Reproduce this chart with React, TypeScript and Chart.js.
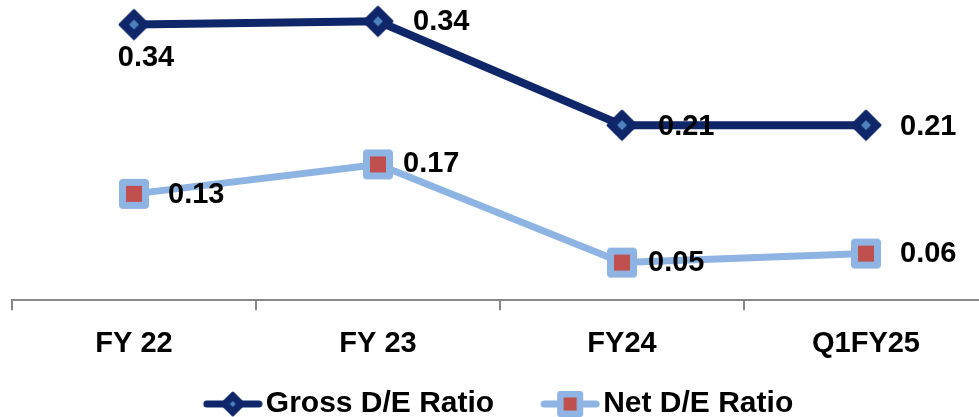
import React, { useEffect, useRef } from 'react';
import { Chart, registerables } from 'chart.js';

Chart.register(...registerables);

// ---- data ----
const categories = ['FY 22', 'FY 23', 'FY24', 'Q1FY25'];
const grossDE = [0.337, 0.341, 0.214, 0.214];
const netDE = [0.13, 0.166, 0.046, 0.057];
const seriesNames = ['Gross D/E Ratio', 'Net D/E Ratio'];
const Y_MIN = 0;
const Y_MAX = 0.367;

// ---- styles ----
const NAVY = '#0f2769';
const NAVY_INNER = '#4f81bd';
const LIGHT = '#8eb4e3';
const RED = '#c0504d';
const FONT = "'Liberation Sans', Arial, sans-serif";

// label placement per series / point (dx, dy in px from the point)
const LABEL_PLACEMENT = [
  [
    { dx: 12, dy: 33.5, align: 'center' },
    { dx: 35, dy: 1, align: 'left' },
    { dx: 36, dy: 2, align: 'left' },
    { dx: 34, dy: 2, align: 'left' },
  ],
  [
    { dx: 34, dy: 1, align: 'left' },
    { dx: 25, dy: 0, align: 'left' },
    { dx: 26, dy: 0, align: 'left' },
    { dx: 34, dy: 0, align: 'left' },
  ],
];

const CANVAS_SHIFT = 26;
const LEGEND_BOX = 82;

function makeCanvas(w: number, h: number) {
  const c = document.createElement('canvas');
  c.width = w;
  c.height = h;
  return c;
}

function diamondPath(ctx: CanvasRenderingContext2D, cx: number, cy: number, r: number) {
  ctx.beginPath();
  ctx.moveTo(cx - r, cy);
  ctx.lineTo(cx, cy - r);
  ctx.lineTo(cx + r, cy);
  ctx.lineTo(cx, cy + r);
  ctx.closePath();
}

function roundRectPath(ctx: CanvasRenderingContext2D, x: number, y: number, w: number, h: number, r: number) {
  ctx.beginPath();
  ctx.moveTo(x + r, y);
  ctx.lineTo(x + w - r, y);
  ctx.quadraticCurveTo(x + w, y, x + w, y + r);
  ctx.lineTo(x + w, y + h - r);
  ctx.quadraticCurveTo(x + w, y + h, x + w - r, y + h);
  ctx.lineTo(x + r, y + h);
  ctx.quadraticCurveTo(x, y + h, x, y + h - r);
  ctx.lineTo(x, y + r);
  ctx.quadraticCurveTo(x, y, x + r, y);
  ctx.closePath();
}

function drawGrossMarker(ctx: CanvasRenderingContext2D, cx: number, cy: number, r: number, inner: number) {
  diamondPath(ctx, cx, cy, r);
  ctx.fillStyle = NAVY;
  ctx.fill();
  ctx.lineJoin = 'round';
  ctx.lineWidth = 3;
  ctx.strokeStyle = NAVY;
  ctx.stroke();
  diamondPath(ctx, cx, cy, inner);
  ctx.fillStyle = NAVY_INNER;
  ctx.fill();
}

function drawNetMarker(ctx: CanvasRenderingContext2D, cx: number, cy: number, side: number, inner: number, rad: number) {
  roundRectPath(ctx, cx - side / 2, cy - side / 2, side, side, rad);
  ctx.fillStyle = LIGHT;
  ctx.fill();
  ctx.fillStyle = RED;
  ctx.fillRect(cx - inner / 2, cy - inner / 2, inner, inner);
}

function grossMarkerImage() {
  const c = makeCanvas(36, 36);
  const ctx = c.getContext('2d')!;
  drawGrossMarker(ctx, 18, 18, 14, 5);
  return c;
}

function netMarkerImage() {
  const c = makeCanvas(36, 36);
  const ctx = c.getContext('2d')!;
  drawNetMarker(ctx, 18, 18, 30, 16, 4);
  return c;
}

// legend symbol: line + marker in the right 60px of the image
function legendImage(kind: 'gross' | 'net') {
  const w = LEGEND_BOX + 24;
  const c = makeCanvas(w, 30);
  const ctx = c.getContext('2d')!;
  const x0 = w - 60;
  ctx.lineCap = 'round';
  ctx.beginPath();
  ctx.moveTo(x0 + 4, 15);
  ctx.lineTo(w - 4, 15);
  if (kind === 'gross') {
    ctx.strokeStyle = NAVY;
    ctx.lineWidth = 7;
    ctx.stroke();
    drawGrossMarker(ctx, x0 + 30, 15, 11, 3);
  } else {
    ctx.strokeStyle = LIGHT;
    ctx.lineWidth = 7;
    ctx.stroke();
    drawNetMarker(ctx, x0 + 30, 15, 26, 13, 3);
  }
  return c;
}

const valueLabelPlugin = {
  id: 'valueLabels',
  afterDatasetsDraw(chart: any) {
    const ctx: CanvasRenderingContext2D = chart.ctx;
    ctx.save();
    ctx.font = `bold 29px ${FONT}`;
    ctx.fillStyle = '#000';
    ctx.textBaseline = 'middle';
    chart.data.datasets.forEach((ds: any, i: number) => {
      const meta = chart.getDatasetMeta(i);
      meta.data.forEach((pt: any, j: number) => {
        const p = LABEL_PLACEMENT[i][j];
        ctx.textAlign = p.align as CanvasTextAlign;
        ctx.fillText((ds.data[j] as number).toFixed(2), pt.x + p.dx, pt.y + p.dy);
      });
    });
    ctx.restore();
  },
};

export default function App() {
  const ref = useRef<HTMLCanvasElement>(null);

  useEffect(() => {
    const canvas = ref.current!;
    const grossMarker = grossMarkerImage();
    const netMarker = netMarkerImage();
    const grossLegend = legendImage('gross');
    const netLegend = legendImage('net');

    const chart = new Chart(canvas, {
      type: 'line',
      data: {
        labels: categories,
        datasets: [
          {
            label: seriesNames[0],
            data: grossDE,
            borderColor: NAVY,
            backgroundColor: NAVY,
            borderWidth: 8,
            borderJoinStyle: 'round',
            borderCapStyle: 'round',
            pointStyle: grossMarker as any,
            pointRadius: 15,
            pointHoverRadius: 15,
            tension: 0,
            fill: false,
            clip: false as any,
          },
          {
            label: seriesNames[1],
            data: netDE,
            borderColor: LIGHT,
            backgroundColor: LIGHT,
            borderWidth: 7,
            borderJoinStyle: 'round',
            borderCapStyle: 'round',
            pointStyle: netMarker as any,
            pointRadius: 15,
            pointHoverRadius: 15,
            tension: 0,
            fill: false,
            clip: false as any,
          },
        ],
      },
      options: {
        responsive: false,
        animation: false,
        devicePixelRatio: 1,
        events: [],
        layout: { padding: 0, autoPadding: false },
        plugins: {
          tooltip: { enabled: false },
          title: { display: false },
          legend: {
            display: true,
            position: 'bottom',
            align: 'center',
            labels: {
              usePointStyle: true,
              pointStyleWidth: LEGEND_BOX,
              padding: 12,
              color: '#000',
              font: { family: FONT, size: 30, weight: 'bold' },
              generateLabels: () => [
                {
                  text: seriesNames[0],
                  pointStyle: grossLegend as any,
                  fillStyle: NAVY,
                  strokeStyle: NAVY,
                  lineWidth: 0,
                  hidden: false,
                  datasetIndex: 0,
                },
                {
                  text: seriesNames[1],
                  pointStyle: netLegend as any,
                  fillStyle: LIGHT,
                  strokeStyle: LIGHT,
                  lineWidth: 0,
                  hidden: false,
                  datasetIndex: 1,
                },
              ],
            },
          },
        },
        scales: {
          x: {
            offset: true,
            grid: {
              display: true,
              drawOnChartArea: false,
              drawTicks: true,
              tickLength: 10,
              offset: true,
              color: '#888888',
              lineWidth: 2,
            },
            border: { display: true, color: '#888888', width: 2 },
            ticks: {
              color: '#000',
              padding: 16,
              autoSkip: false,
              maxRotation: 0,
              font: { family: FONT, size: 29, weight: 'bold', lineHeight: 1.2 },
            },
          },
          y: {
            min: Y_MIN,
            max: Y_MAX,
            display: true,
            grid: { display: false },
            border: { display: false },
            ticks: { display: false },
            afterFit: (s: any) => {
              s.width = 12 + CANVAS_SHIFT;
            },
          },
        },
      },
      plugins: [valueLabelPlugin],
    });

    return () => chart.destroy();
  }, []);

  return (
    <div
      style={{
        position: 'fixed',
        left: 0,
        top: 0,
        width: 979,
        height: 417,
        overflow: 'hidden',
        background: '#fff',
      }}
    >
      <canvas
        ref={ref}
        width={988 + CANVAS_SHIFT}
        height={429}
        style={{ position: 'absolute', left: -CANVAS_SHIFT, top: 0, width: 988 + CANVAS_SHIFT, height: 429 }}
      />
    </div>
  );
}
